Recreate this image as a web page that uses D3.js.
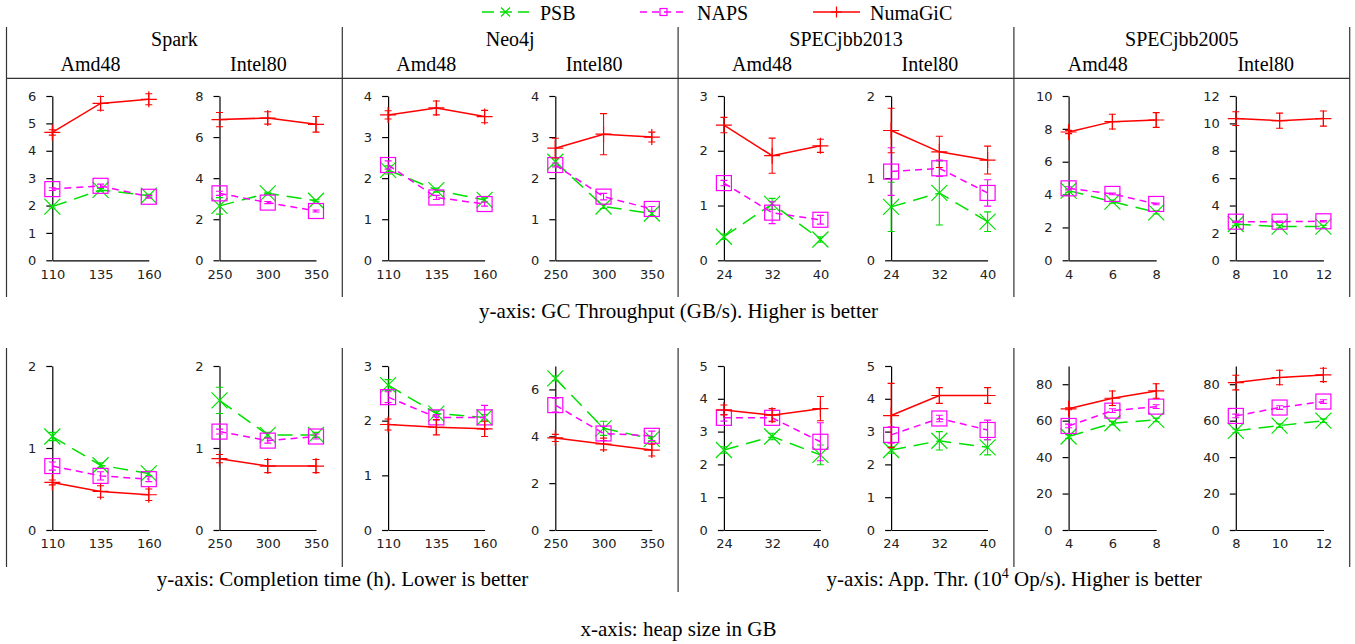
<!DOCTYPE html>
<html>
<head>
<meta charset="utf-8">
<script src="https://cdn.jsdelivr.net/npm/d3@7"></script>
<style>
  body { margin: 0; background: #fff; }
  svg { display: block; }
  .serif { font-family: "Liberation Serif", "Times New Roman", serif; fill: #000; }
  .axis text { font-family: "DejaVu Sans", sans-serif; font-size: 13px; fill: #222; }
  .axis path, .axis line { stroke: #000; stroke-width: 1.2; }
</style>
</head>
<body>
<svg width="1355" height="644"></svg>
<script>
const series = ['PSB', 'NAPS', 'NumaGiC'];
const colors = ['#00e000', '#ff00ff', '#ff0000'];
const dashes = ['15,8', '7,5', null];
const shapes = ['x', 'square', 'plus'];

const benchmarks = ['Spark', 'Neo4j', 'SPECjbb2013', 'SPECjbb2005'];
const machines = ['Amd48', 'Intel80'];

// heap sizes (GB) for each panel, same for both rows
const heap = [[110, 135, 160], [250, 300, 350], [110, 135, 160], [250, 300, 350],
  [24, 32, 40], [24, 32, 40], [4, 6, 8], [8, 10, 12]];

// top row: GC throughput (GB/s)
const gcMax = [6, 8, 4, 4, 3, 2, 10, 12];
const gcStep = [1, 2, 1, 1, 1, 1, 2, 2];
const gcPSB = [[1.96, 2.57, 2.36], [2.65, 3.26, 2.9], [2.2, 1.71, 1.47], [2.4, 1.31, 1.14],
  [0.43, 1.03, 0.38], [0.65, 0.82, 0.47], [4.24, 3.57, 2.92], [2.65, 2.46, 2.46]];
const gcPSBErr = [[0.05, 0.05, 0.05], [0.4, 0.05, 0.05], [0.1, 0.05, 0.05], [0.1, 0.05, 0.05],
  [0.05, 0.1, 0.05], [0.3, 0.39, 0.12], [0.1, 0.1, 0.1], [0.1, 0.1, 0.1]];
const gcNAPS = [[2.6, 2.72, 2.32], [3.26, 2.81, 2.4], [2.32, 1.53, 1.37], [2.32, 1.55, 1.25],
  [1.41, 0.87, 0.74], [1.08, 1.12, 0.82], [4.38, 4.04, 3.43], [2.82, 2.82, 2.85]];
const gcNAPSErr = [[0.05, 0.06, 0.05], [0.1, 0.05, 0.05], [0.1, 0.05, 0.05], [0.05, 0.08, 0.06],
  [0.05, 0.2, 0.08], [0.29, 0.1, 0.16], [0.1, 0.05, 0.05], [0.05, 0.05, 0.05]];
const gcNuma = [[4.67, 5.73, 5.88], [6.85, 6.93, 6.62], [3.54, 3.71, 3.5], [2.73, 3.07, 3.0],
  [2.47, 1.91, 2.09], [1.58, 1.32, 1.22], [7.81, 8.44, 8.54], [10.35, 10.2, 10.35]];
const gcNumaErr = [[0.1, 0.25, 0.2], [0.35, 0.3, 0.38], [0.1, 0.17, 0.15], [0.24, 0.5, 0.12],
  [0.14, 0.32, 0.12], [0.27, 0.19, 0.17], [0.1, 0.45, 0.45], [0.5, 0.55, 0.55]];

// bottom row: completion time (h) for Spark/Neo4j, app throughput (10^4 Op/s) for SPECjbb
const appMax = [2, 2, 3, 7, 5, 5, 90, 90];
const appStep = [1, 1, 1, 2, 1, 1, 20, 20];
const appPSB = [[1.14, 0.79, 0.69], [1.58, 1.16, 1.16], [2.65, 2.13, 2.06], [6.47, 4.34, 3.89],
  [2.44, 2.85, 2.29], [2.44, 2.72, 2.52], [51.3, 58.6, 60.4], [54.4, 57.3, 60]];
const appPSBErr = [[0.05, 0.03, 0.03], [0.16, 0.03, 0.03], [0.1, 0.05, 0.05], [0.1, 0.3, 0.1],
  [0.1, 0.1, 0.3], [0.1, 0.28, 0.23], [1, 1, 1], [1, 1, 1]];
const appNAPS = [[0.78, 0.66, 0.62], [1.2, 1.09, 1.14], [2.43, 2.06, 2.06], [5.33, 4.12, 4.02],
  [3.42, 3.42, 2.69], [2.9, 3.4, 3.05], [57.1, 65.5, 67.7], [62.6, 67.2, 70.5]];
const appNAPSErr = [[0.05, 0.05, 0.03], [0.03, 0.03, 0.03], [0.1, 0.05, 0.22], [0.3, 0.3, 0.2],
  [0.1, 0.1, 0.58], [0.25, 0.1, 0.3], [1, 1, 1], [1, 1, 1]];
const appNuma = [[0.58, 0.47, 0.43], [0.87, 0.78, 0.78], [1.93, 1.88, 1.85], [3.93, 3.67, 3.41],
  [3.66, 3.5, 3.7], [3.49, 4.1, 4.1], [66.5, 72.3, 76.3], [80.9, 83.7, 85.1]];
const appNumaErr = [[0.03, 0.07, 0.07], [0.05, 0.08, 0.08], [0.1, 0.14, 0.14], [0.15, 0.25, 0.25],
  [0.15, 0.2, 0.37], [0.98, 0.24, 0.24], [0.5, 4, 4], [4, 4, 3.7]];

const rows = [
  { max: gcMax, step: gcStep, vals: [gcPSB, gcNAPS, gcNuma], errs: [gcPSBErr, gcNAPSErr, gcNumaErr], top: 96, bottom: 260.3 },
  { max: appMax, step: appStep, vals: [appPSB, appNAPS, appNuma], errs: [appPSBErr, appNAPSErr, appNumaErr], top: 366, bottom: 530 }
];

const svg = d3.select('svg');
const GROUP_W = 335.8;
const groupLeft = g => 6.5 + g * GROUP_W;

function marker(sel, shape, cx, cy, r, color) {
  if (shape === 'square') {
    sel.append('rect')
      .attr('x', cx - r).attr('y', cy - r)
      .attr('width', 2 * r).attr('height', 2 * r)
      .attr('fill', 'none').attr('stroke', color).attr('stroke-width', 1.2);
  } else if (shape === 'x') {
    sel.append('path')
      .attr('d', `M${cx - r},${cy - r}L${cx + r},${cy + r}M${cx - r},${cy + r}L${cx + r},${cy - r}`)
      .attr('stroke', color).attr('stroke-width', 1.2);
  } else {
    sel.append('path')
      .attr('d', `M${cx - r},${cy}L${cx + r},${cy}M${cx},${cy - r}L${cx},${cy + r}`)
      .attr('stroke', color).attr('stroke-width', 1.2);
  }
}

// legend
const legendX = [482, 640, 813];
const legendTextX = [540, 697, 870];
const legendR = [4.5, 3.5, 5.5];
series.forEach((s, k) => {
  const g = svg.append('g');
  g.append('line')
    .attr('x1', legendX[k]).attr('x2', legendX[k] + 47)
    .attr('y1', 12).attr('y2', 12)
    .attr('stroke', colors[k]).attr('stroke-width', 1.4)
    .attr('stroke-dasharray', k === 0 ? '12,6' : (k === 1 ? '7,5' : null));
  marker(g, shapes[k], legendX[k] + 23.5, 12, legendR[k], colors[k]);
  g.append('text').attr('class', 'serif')
    .attr('x', legendTextX[k]).attr('y', 19.5)
    .attr('font-size', 20).text(s);
});

// frame lines
const sep = svg.append('g').attr('stroke', '#333').attr('stroke-width', 1.2);
sep.append('line').attr('x1', 6.5).attr('x2', groupLeft(4)).attr('y1', 78.3).attr('y2', 78.3);
d3.range(5).forEach(g => {
  sep.append('line').attr('x1', groupLeft(g)).attr('x2', groupLeft(g)).attr('y1', 27).attr('y2', 297);
  sep.append('line').attr('x1', groupLeft(g)).attr('x2', groupLeft(g))
    .attr('y1', 348).attr('y2', g === 2 ? 592 : 567);
});

// headers
benchmarks.forEach((b, g) => {
  const L = groupLeft(g);
  svg.append('text').attr('class', 'serif').attr('font-size', 20)
    .attr('text-anchor', 'middle').attr('x', L + GROUP_W / 2).attr('y', 46).text(b);
  machines.forEach((m, j) => {
    svg.append('text').attr('class', 'serif').attr('font-size', 20)
      .attr('text-anchor', 'middle').attr('x', L + GROUP_W / 4 + j * GROUP_W / 2).attr('y', 71).text(m);
  });
});

// panels
rows.forEach((row, r) => {
  heap.forEach((hs, i) => {
    const g = Math.floor(i / 2);
    const j = i % 2;
    const L = groupLeft(g);
    const wide = row.max[i] >= 10;
    const x0 = L + (wide ? 54.7 : 45.8) + j * 167.2;
    const x1 = L + 142.3 + j * 167.2;

    const x = d3.scaleLinear().domain([hs[0], hs[hs.length - 1]]).range([x0, x1]);
    const y = d3.scaleLinear().domain([0, row.max[i]]).range([row.bottom, row.top]);
    const ticks = d3.range(0, row.max[i] + 1e-9, row.step[i]);

    const panel = svg.append('g');
    panel.append('g').attr('class', 'axis')
      .attr('transform', `translate(${x0},0)`)
      .call(d3.axisLeft(y).tickValues(ticks).tickSize(6).tickSizeOuter(0).tickPadding(10)
        .tickFormat(d3.format('d')));
    panel.append('g').attr('class', 'axis')
      .attr('transform', `translate(0,${row.bottom})`)
      .call(d3.axisBottom(x).tickValues(hs).tickSize(0).tickPadding(9).tickFormat(d3.format('d')));

    row.vals.forEach((vals, k) => {
      const pts = hs.map((h, n) => ({ h, v: vals[i][n], e: row.errs[k][i][n] }));
      const s = panel.append('g');
      s.append('path')
        .datum(pts)
        .attr('fill', 'none')
        .attr('stroke', colors[k])
        .attr('stroke-width', 1.5)
        .attr('stroke-dasharray', dashes[k])
        .attr('d', d3.line().x(d => x(d.h)).y(d => y(d.v)));
      pts.forEach(d => {
        const cx = x(d.h);
        const ya = y(d.v + d.e), yb = y(d.v - d.e);
        s.append('path')
          .attr('d', `M${cx},${ya}L${cx},${yb}M${cx - 3.5},${ya}L${cx + 3.5},${ya}M${cx - 3.5},${yb}L${cx + 3.5},${yb}`)
          .attr('stroke', colors[k]).attr('stroke-width', 1.1).attr('fill', 'none');
        marker(s, shapes[k], cx, y(d.v), shapes[k] === 'square' ? 7.5 : 8, colors[k]);
      });
    });
  });
});

// captions
const cap = (x, y, t) => svg.append('text').attr('class', 'serif').attr('font-size', 21)
  .attr('text-anchor', 'middle').attr('x', x).attr('y', y).text(t);
cap(678.5, 318, 'y-axis: GC Throughput (GB/s). Higher is better');
cap(342.6, 586, 'y-axis: Completion time (h). Lower is better');
const appCap = svg.append('text').attr('class', 'serif').attr('font-size', 21)
  .attr('text-anchor', 'middle').attr('x', 1014.2).attr('y', 586);
appCap.append('tspan').text('y-axis: App. Thr. (10');
appCap.append('tspan').attr('font-size', 14).attr('dy', -8).text('4');
appCap.append('tspan').attr('dy', 8).text(' Op/s). Higher is better');
cap(678.5, 636, 'x-axis: heap size in GB');
</script>
</body>
</html>
